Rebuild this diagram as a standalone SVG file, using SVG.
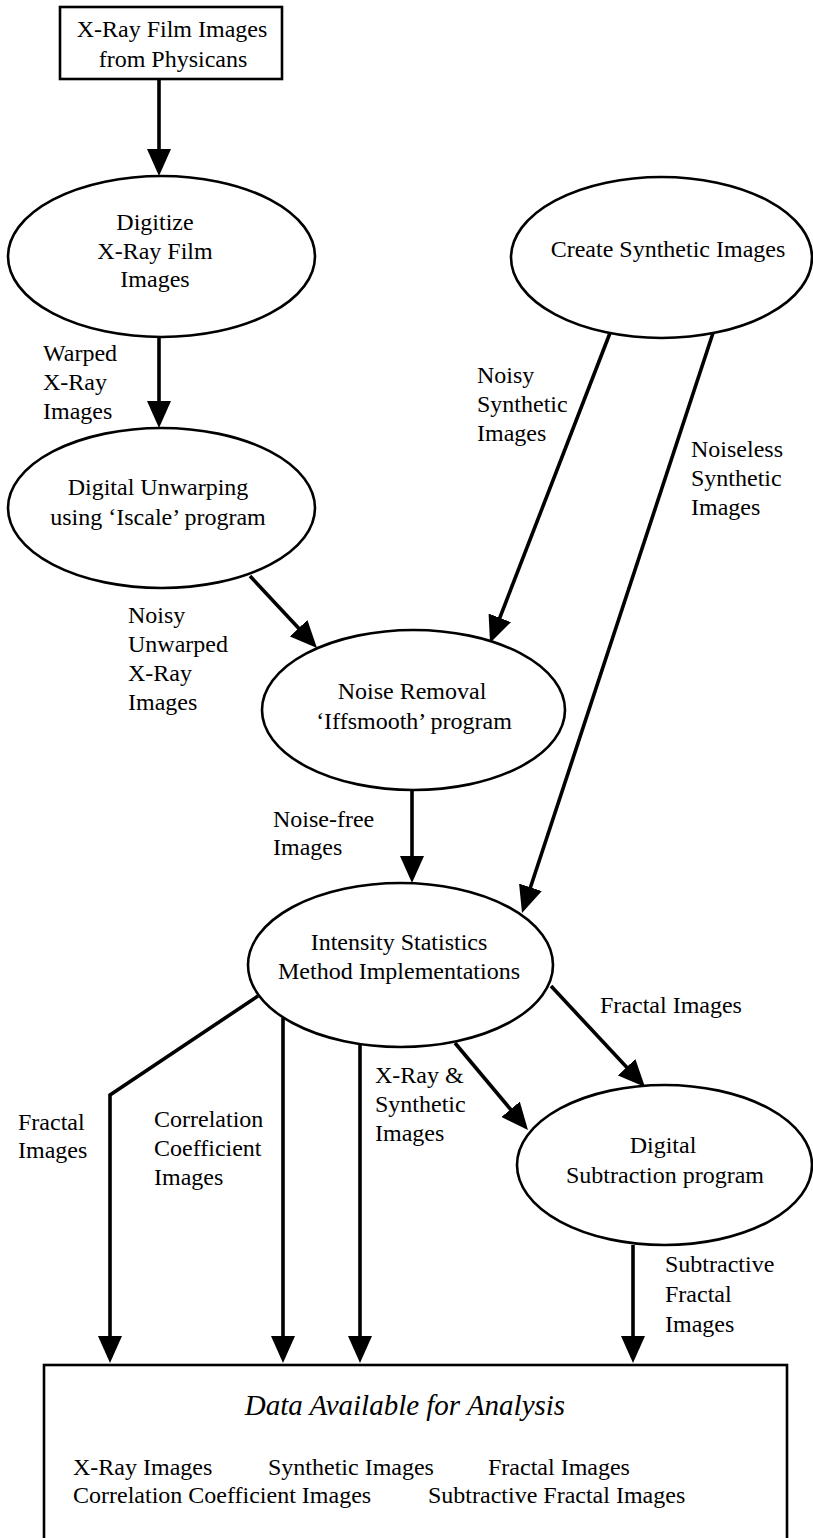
<svg xmlns="http://www.w3.org/2000/svg" width="813" height="1538" viewBox="0 0 813 1538">
<defs>
<style>
text{font-family:"Liberation Serif","Times New Roman",serif;font-size:24px;fill:#000}
.c{text-anchor:middle}
.node{fill:#fff;stroke:#000;stroke-width:2.6}
.conn{fill:none;stroke:#000;stroke-width:3.6;marker-end:url(#ah)}
.plain{fill:none;stroke:#000;stroke-width:3.6}
.it{font-style:italic;font-size:29px}
</style>
<marker id="ah" markerUnits="userSpaceOnUse" markerWidth="27" markerHeight="24" refX="21" refY="12" orient="auto">
<path d="M0,0 L27,12 L0,24 z" fill="#000"/>
</marker>
</defs>
<rect width="813" height="1538" fill="#fff"/>

<g id="connectors">
<line class="conn" x1="159" y1="79" x2="159" y2="170"/>
<line class="conn" x1="159" y1="337" x2="159" y2="422"/>
<line class="conn" x1="250" y1="576" x2="312.9" y2="643.6"/>
<line class="conn" x1="610" y1="333" x2="492.2" y2="637.4"/>
<line class="conn" x1="713" y1="333" x2="523.9" y2="907.3"/>
<line class="conn" x1="412" y1="790" x2="412" y2="877"/>
<line class="conn" x1="551" y1="986" x2="640.9" y2="1082.6"/>
<line class="conn" x1="455" y1="1043" x2="524.1" y2="1125.4"/>
<polyline class="conn" points="258,996 110,1095 110,1357"/>
<line class="conn" x1="283" y1="1018" x2="283" y2="1357"/>
<line class="conn" x1="360" y1="1044" x2="360" y2="1357"/>
<line class="conn" x1="633" y1="1245" x2="633" y2="1357"/>
</g>

<g id="labels">
<text x="43" y="361">Warped</text>
<text x="43" y="390">X-Ray</text>
<text x="43" y="419">Images</text>
<text x="128" y="623">Noisy</text>
<text x="128" y="652">Unwarped</text>
<text x="128" y="681">X-Ray</text>
<text x="128" y="710">Images</text>
<text x="477" y="383">Noisy</text>
<text x="477" y="412">Synthetic</text>
<text x="477" y="441">Images</text>
<text x="691" y="457">Noiseless</text>
<text x="691" y="486">Synthetic</text>
<text x="691" y="515">Images</text>
<text x="273" y="827">Noise-free</text>
<text x="273" y="855">Images</text>
<text x="600" y="1013">Fractal Images</text>
<text x="375" y="1083">X-Ray &amp;</text>
<text x="375" y="1112">Synthetic</text>
<text x="375" y="1141">Images</text>
<text x="18" y="1130">Fractal</text>
<text x="18" y="1158">Images</text>
<text x="154" y="1127">Correlation</text>
<text x="154" y="1156">Coefficient</text>
<text x="154" y="1185">Images</text>
<text x="665" y="1272">Subtractive</text>
<text x="665" y="1302">Fractal</text>
<text x="665" y="1332">Images</text>
</g>

<g id="xray-film">
<rect class="node" x="60" y="7" width="222" height="72"/>
<text class="c" x="172" y="37">X-Ray Film Images</text>
<text class="c" x="173" y="67">from Physicans</text>
</g>

<g id="digitize">
<ellipse class="node" cx="161.5" cy="256.5" rx="153.5" ry="80.5"/>
<text class="c" x="155" y="230">Digitize</text>
<text class="c" x="155" y="259">X-Ray Film</text>
<text class="c" x="155" y="287">Images</text>
</g>

<g id="create-synthetic">
<ellipse class="node" cx="661.5" cy="257.5" rx="150.5" ry="80.5"/>
<text class="c" x="668" y="257">Create Synthetic Images</text>
</g>

<g id="unwarping">
<ellipse class="node" cx="161.5" cy="508" rx="153.5" ry="80"/>
<text class="c" x="158" y="495">Digital Unwarping</text>
<text class="c" x="158" y="525">using ‘Iscale’ program</text>
</g>

<g id="noise-removal">
<ellipse class="node" cx="413.5" cy="710" rx="151.5" ry="80"/>
<text class="c" x="412" y="699">Noise Removal</text>
<text class="c" x="414" y="729">‘Iffsmooth’ program</text>
</g>

<g id="intensity">
<ellipse class="node" cx="400.5" cy="965" rx="152.5" ry="82"/>
<text class="c" x="399" y="950">Intensity Statistics</text>
<text class="c" x="399" y="979">Method Implementations</text>
</g>

<g id="subtraction">
<ellipse class="node" cx="664.5" cy="1165" rx="147.5" ry="80"/>
<text class="c" x="663" y="1153">Digital</text>
<text class="c" x="665" y="1183">Subtraction program</text>
</g>

<g id="data-available">
<rect class="node" x="44" y="1365" width="743" height="200"/>
<text class="c it" x="405" y="1415">Data Available for Analysis</text>
<text x="73" y="1475">X-Ray Images</text>
<text x="268" y="1475">Synthetic Images</text>
<text x="488" y="1475">Fractal Images</text>
<text x="73" y="1503">Correlation Coefficient Images</text>
<text x="428" y="1503">Subtractive Fractal Images</text>
</g>
</svg>
